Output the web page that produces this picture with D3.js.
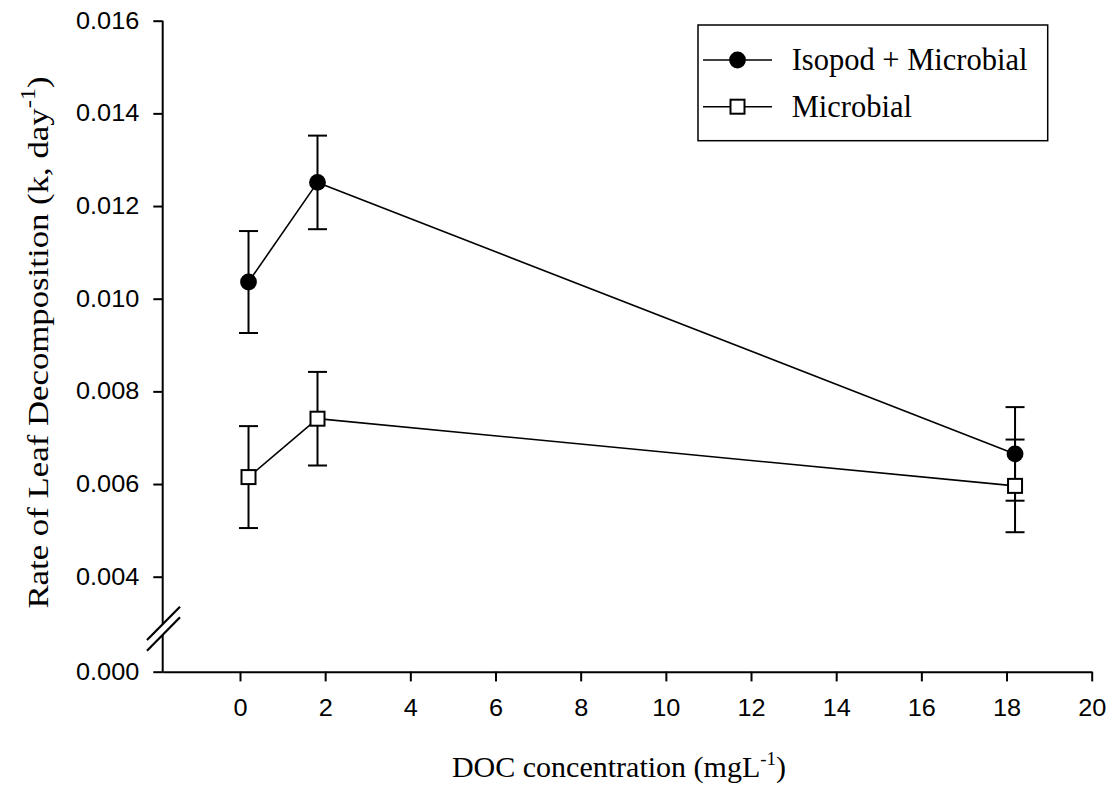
<!DOCTYPE html>
<html>
<head>
<meta charset="utf-8">
<script src="https://cdn.jsdelivr.net/npm/d3@7"></script>
<style>
  html, body { margin: 0; padding: 0; background: #fff; }
  svg { display: block; }
</style>
</head>
<body>
<svg id="chart" width="1115" height="788"></svg>
<script>
// DOC concentration (mg/L) for each treatment level
const docLevels = [0.2, 1.82, 18.2];

// Decomposition rate k (1/day), mean and standard error
const isopodMean = [0.01036, 0.01251, 0.00665];
const isopodErr  = [0.00110, 0.00101, 0.00101];
const microbialMean = [0.00615, 0.00741, 0.00596];
const microbialErr  = [0.00110, 0.00101, 0.00100];

const xTicks = [0, 2, 4, 6, 8, 10, 12, 14, 16, 18, 20];
const yTicks = [0, 0.004, 0.006, 0.008, 0.010, 0.012, 0.014, 0.016];

const seriesNames = ["Isopod + Microbial", "Microbial"];

const svg = d3.select("#chart");

// x runs slightly below zero so the first point clears the y axis
const x = d3.scaleLinear().domain([-1.815, 20]).range([162.7, 1091.7]);
// broken y axis: 0 sits below a compressed gap, 0.004–0.016 is linear
const y = d3.scaleLinear().domain([0, 0.004, 0.016]).range([671.7, 576.7, 20.7]);

const series = [
  { name: seriesNames[0], mean: isopodMean, err: isopodErr, marker: "circle" },
  { name: seriesNames[1], mean: microbialMean, err: microbialErr, marker: "square" }
];

// ---- axes ----
const xAxis = svg.append("g")
  .attr("transform", `translate(0,${y(0)})`)
  .call(d3.axisBottom(x).tickValues(xTicks).tickSize(9.7).tickSizeOuter(0).tickFormat(d3.format("d")));
xAxis.select(".domain").attr("stroke-width", 2);
xAxis.selectAll(".tick line").attr("stroke-width", 2);
xAxis.selectAll(".tick text")
  .attr("y", 44.7).attr("dy", 0)
  .attr("font-family", "Liberation Sans, Arial, sans-serif")
  .attr("font-size", 23)
  .attr("fill", "#000")
  .attr("transform", "scale(1.1,1)");

const yAxis = svg.append("g")
  .attr("transform", `translate(${x.range()[0]},0)`)
  .call(d3.axisLeft(y).tickValues(yTicks).tickSize(9.4).tickSizeOuter(0).tickFormat(d3.format(".3f")));
yAxis.select(".domain").remove();
yAxis.selectAll(".tick line").attr("stroke-width", 2);
yAxis.selectAll(".tick text")
  .attr("x", -21.3)
  .attr("font-family", "Liberation Sans, Arial, sans-serif")
  .attr("font-size", 23)
  .attr("fill", "#000")
  .attr("transform", "scale(1.1,1)");

// y axis spine drawn in two pieces around the break
const breakTop = 624, breakBottom = 635;
const x0 = x.range()[0];
svg.append("line").attr("x1", x0).attr("x2", x0).attr("y1", y(0.016)).attr("y2", breakTop)
  .attr("stroke", "#000").attr("stroke-width", 2);
svg.append("line").attr("x1", x0).attr("x2", x0).attr("y1", breakBottom).attr("y2", y(0) + 1)
  .attr("stroke", "#000").attr("stroke-width", 2);

// break marks: two parallel diagonals
[[147, 640, 180, 606.7], [147, 650.7, 180, 617.3]].forEach(([a, b, c, d]) => {
  svg.append("line").attr("x1", a).attr("y1", b).attr("x2", c).attr("y2", d)
    .attr("stroke", "#000").attr("stroke-width", 2.2);
});

// ---- error bars ----
const capHalf = 9.5;
series.forEach(s => {
  const g = svg.append("g").attr("stroke", "#000").attr("stroke-width", 2);
  docLevels.forEach((dx, i) => {
    const cx = x(dx), lo = y(s.mean[i] - s.err[i]), hi = y(s.mean[i] + s.err[i]);
    g.append("line").attr("x1", cx).attr("x2", cx).attr("y1", lo).attr("y2", hi);
    g.append("line").attr("x1", cx - capHalf).attr("x2", cx + capHalf).attr("y1", lo).attr("y2", lo);
    g.append("line").attr("x1", cx - capHalf).attr("x2", cx + capHalf).attr("y1", hi).attr("y2", hi);
  });
});

// ---- connecting lines ----
const line = d3.line().x((d, i) => x(docLevels[i])).y(d => y(d));
series.forEach(s => {
  svg.append("path").datum(s.mean).attr("d", line)
    .attr("fill", "none").attr("stroke", "#000").attr("stroke-width", 1.6);
});

// ---- markers ----
const sq = 14;
function drawMarker(g, kind, cx, cy) {
  if (kind === "circle") {
    g.append("circle").attr("cx", cx).attr("cy", cy).attr("r", 8.4).attr("fill", "#000");
  } else {
    g.append("rect").attr("x", cx - sq / 2).attr("y", cy - sq / 2).attr("width", sq).attr("height", sq)
      .attr("fill", "#fff").attr("stroke", "#000").attr("stroke-width", 2);
  }
}
// draw microbial first so the filled circles sit on top
[series[1], series[0]].forEach(s => {
  const g = svg.append("g");
  s.mean.forEach((v, i) => drawMarker(g, s.marker, x(docLevels[i]), y(v)));
});

// ---- axis titles ----
const serif = "Liberation Serif, Times New Roman, serif";
const xt = svg.append("text")
  .attr("x", 619).attr("y", 777)
  .attr("text-anchor", "middle")
  .attr("font-family", serif).attr("font-size", 30).attr("fill", "#000");
xt.append("tspan").text("DOC concentration (mgL");
xt.append("tspan").attr("font-size", 19).attr("dy", -12).text("-1");
xt.append("tspan").attr("dy", 12).text(")");

// y title is elongated along its reading direction
const yt = svg.append("text")
  .attr("transform", "translate(48,342.5) rotate(-90) scale(1.16,1)")
  .attr("text-anchor", "middle")
  .attr("font-family", serif).attr("font-size", 30).attr("fill", "#000");
yt.append("tspan").text("Rate of Leaf Decomposition (k, day");
yt.append("tspan").attr("font-size", 21).attr("dy", -13).text("-1");
yt.append("tspan").attr("dy", 13).text(")");

// ---- legend ----
const legend = svg.append("g");
legend.append("rect").attr("x", 698).attr("y", 25).attr("width", 349.7).attr("height", 115.7)
  .attr("fill", "#fff").attr("stroke", "#000").attr("stroke-width", 1.5);
const rowY = [60, 106.7];
series.forEach((s, i) => {
  legend.append("line").attr("x1", 703).attr("x2", 772).attr("y1", rowY[i]).attr("y2", rowY[i])
    .attr("stroke", "#000").attr("stroke-width", 1.6);
  drawMarker(legend, s.marker, 737.5, rowY[i]);
  legend.append("text").attr("x", 791.7).attr("y", rowY[i] + 10)
    .attr("font-family", serif).attr("font-size", 30.5).attr("fill", "#000")
    .text(s.name);
});
</script>
</body>
</html>
